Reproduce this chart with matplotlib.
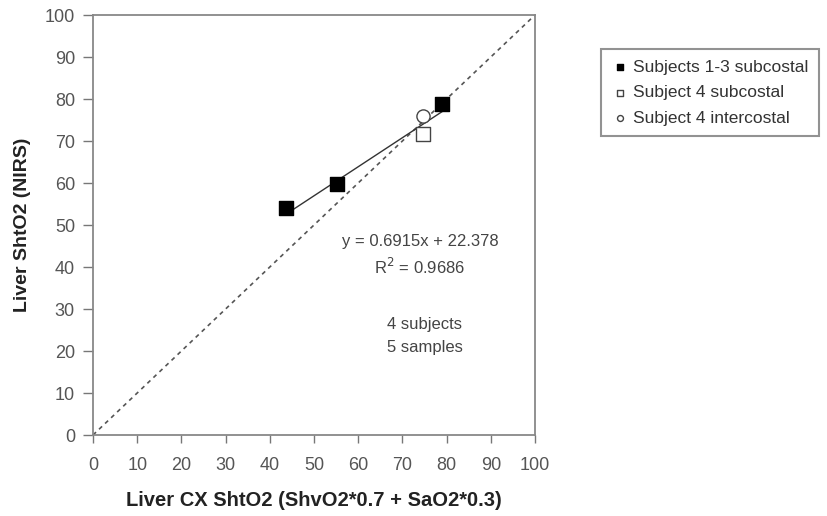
import matplotlib
matplotlib.use("Agg")
import matplotlib.pyplot as plt
import numpy as np

plt.rcParams['font.family'] = ['Liberation Sans', 'DejaVu Sans']

# Data
subj13_x = [43.7, 55.2, 79.0]
subj13_y = [54.0, 59.8, 78.8]
subj4_sub_x = [74.7]
subj4_sub_y = [71.6]
subj4_int_x = [74.7]
subj4_int_y = [75.9]
trend_slope = 0.6915
trend_intercept = 22.378
trend_range = [43.7, 79.0]
identity = [0, 100]
ticks = list(range(0, 101, 10))

fig = plt.figure(figsize=(8.28, 5.16), dpi=100)
ax = fig.add_axes([93/828, 81/516, 442/828, 420/516])

tx = np.array(trend_range)
ax.plot(tx, trend_slope * tx + trend_intercept, color='#333333', lw=1.0, zorder=2)
ax.plot(identity, identity, color='#555555', lw=1.2, ls=(0, (2.5, 2.5)), zorder=1)

ax.scatter(subj13_x, subj13_y, marker='s', s=110, c='black', edgecolors='black',
           zorder=3, label='Subjects 1-3 subcostal')
ax.scatter(subj4_sub_x, subj4_sub_y, marker='s', s=110, c='white', edgecolors='#444444',
           linewidths=1.0, zorder=3, label='Subject 4 subcostal')
ax.scatter(subj4_int_x, subj4_int_y, marker='o', s=90, c='white', edgecolors='#444444',
           linewidths=1.0, zorder=4, label='Subject 4 intercostal')

ax.set_xlim(0, 100)
ax.set_ylim(0, 100)
ax.set_xticks(ticks)
ax.set_yticks(ticks)
ax.tick_params(width=1, colors='#777777', labelcolor='#555555', labelsize=13)
ax.tick_params(axis='x', direction='out', length=6, pad=10)
ax.tick_params(axis='y', direction='out', length=7, pad=6)
for s in ax.spines.values():
    s.set_color('#888888')
    s.set_linewidth(1.3)

ax.set_xlabel('Liver CX ShtO2 (ShvO2*0.7 + SaO2*0.3)', fontsize=14.5, fontweight='bold',
              color='#222222', labelpad=12)
ax.set_ylabel('Liver ShtO2 (NIRS)', fontsize=14, fontweight='bold', color='#222222',
              labelpad=10)

tc = '#444444'
ax.text(74.0, 46.1, 'y = 0.6915x + 22.378', ha='center', va='center', fontsize=12, color=tc)
ax.text(74.0, 40.1, 'R$^2$ = 0.9686', ha='center', va='center', fontsize=12, color=tc)
ax.text(75.1, 26.3, '4 subjects', ha='center', va='center', fontsize=12, color=tc)
ax.text(75.1, 20.8, '5 samples', ha='center', va='center', fontsize=12, color=tc)

leg = fig.legend(loc='upper left', bbox_to_anchor=(601/828, 1 - 49/516), frameon=True,
                 fancybox=False, edgecolor='#777777', fontsize=12.5, handletextpad=0.25,
                 handlelength=1.0, markerscale=0.45, borderpad=0.6, labelspacing=0.6,
                 scatterpoints=1, borderaxespad=0)
for t in leg.get_texts():
    t.set_color('#333333')
leg.get_frame().set_linewidth(1.5)

fig.savefig('out.png', dpi=100)
